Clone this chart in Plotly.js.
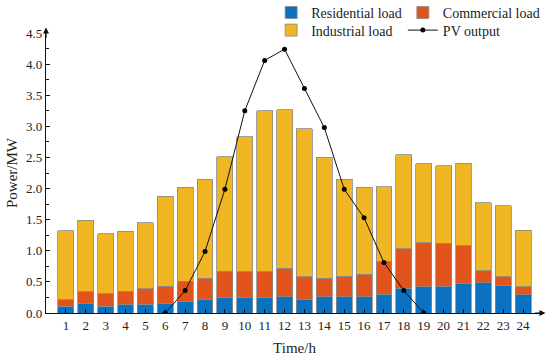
<!DOCTYPE html>
<html>
<head>
<meta charset="utf-8">
<script src="https://cdn.plot.ly/plotly-3.0.1.min.js"></script>
<style>html,body{margin:0;padding:0;background:#fff;}#chart{width:550px;height:361px;}</style>
</head>
<body>
<div id="chart"></div>
<script>
var hours = [1,2,3,4,5,6,7,8,9,10,11,12,13,14,15,16,17,18,19,20,21,22,23,24];
var residential = [0.11,0.15,0.11,0.13,0.14,0.16,0.19,0.21,0.25,0.25,0.25,0.26,0.22,0.26,0.26,0.26,0.30,0.40,0.42,0.43,0.48,0.49,0.45,0.29];
var commercial  = [0.10,0.19,0.20,0.22,0.25,0.27,0.32,0.35,0.42,0.41,0.41,0.46,0.36,0.30,0.33,0.36,0.53,0.63,0.71,0.69,0.61,0.19,0.13,0.13];
var industrial  = [1.11,1.15,0.96,0.96,1.06,1.45,1.51,1.59,1.84,2.17,2.59,2.55,2.38,1.94,1.56,1.40,1.20,1.51,1.27,1.25,1.32,1.09,1.14,0.91];
var pvHours = [6,7,8,9,10,11,12,13,14,15,16,17,18,19];
var pvOutput = [0,0.36,0.99,1.99,3.25,4.06,4.24,3.61,2.98,1.99,1.53,0.81,0.36,0];

var font = 'Liberation Serif, Times New Roman, serif';
var outline = {color:'#8a8a8a', width:0.8};
var traces = [
  {type:'bar', x:hours, y:residential, name:'Residential load', marker:{color:'#0B72C2', line:outline}, legend:'legend2'},
  {type:'bar', x:hours, y:commercial, name:'Commercial load', marker:{color:'#E1541B', line:outline}, legend:'legend3'},
  {type:'bar', x:hours, y:industrial, name:'Industrial load', marker:{color:'#F0B623', line:outline}, legend:'legend4'},
  {type:'scatter', mode:'lines+markers', x:pvHours, y:pvOutput, name:'PV output', line:{color:'#111', width:1}, marker:{color:'#000', size:5}, legend:'legend5'}
];
function leg(x, y) {
  return {orientation:'v', xanchor:'left', x:x, y:y, yanchor:'top',
    font:{family:font,size:14,color:'#222'}, bgcolor:'rgba(0,0,0,0)', traceorder:'normal', itemwidth:30, tracegroupgap:0};
}
var layout = {
  width:550, height:361,
  margin:{l:46, r:7, t:33, b:48, autoexpand:false},
  paper_bgcolor:'#fff', plot_bgcolor:'#fff',
  barmode:'stack', bargap:0.2,
  font:{family:font, size:13, color:'#222'},
  xaxis:{range:[0,25], tickvals:hours, ticks:'inside', ticklen:4, tickcolor:'#111', showgrid:false, zeroline:false,
         showline:true, linecolor:'#111', linewidth:1.2, tickfont:{family:font,size:13,color:'#222'},
         title:{text:'Time/h', font:{family:font,size:15,color:'#222'}, standoff:10}},
  yaxis:{range:[0,4.5], dtick:0.5, tickformat:'.1f', ticks:'inside', ticklen:4, tickcolor:'#111', showgrid:false, zeroline:false,
         showline:true, linecolor:'#111', linewidth:1.2, tickfont:{family:font,size:13,color:'#222'},
         minor:{dtick:0.25, ticks:'inside', ticklen:2.5, tickcolor:'#111'},
         title:{text:'Power/MW', font:{family:font,size:15,color:'#222'}, standoff:4}},
  legend2:leg(0.453, 1.129),
  legend3:leg(0.718, 1.129),
  legend4:leg(0.453, 1.066),
  legend5:leg(0.718, 1.066),
  annotations:[
    {xref:'paper', yref:'paper', x:0, y:1.02, ax:0, ay:12, text:'', showarrow:true, arrowhead:2, arrowsize:1, arrowwidth:1.2, arrowcolor:'#111'},
    {xref:'paper', yref:'paper', x:1.005, y:0, ax:-12, ay:0, text:'', showarrow:true, arrowhead:2, arrowsize:1, arrowwidth:1.2, arrowcolor:'#111'}
  ]
};
Plotly.newPlot('chart', traces, layout, {displayModeBar:false, staticPlot:true});
</script>
</body>
</html>
